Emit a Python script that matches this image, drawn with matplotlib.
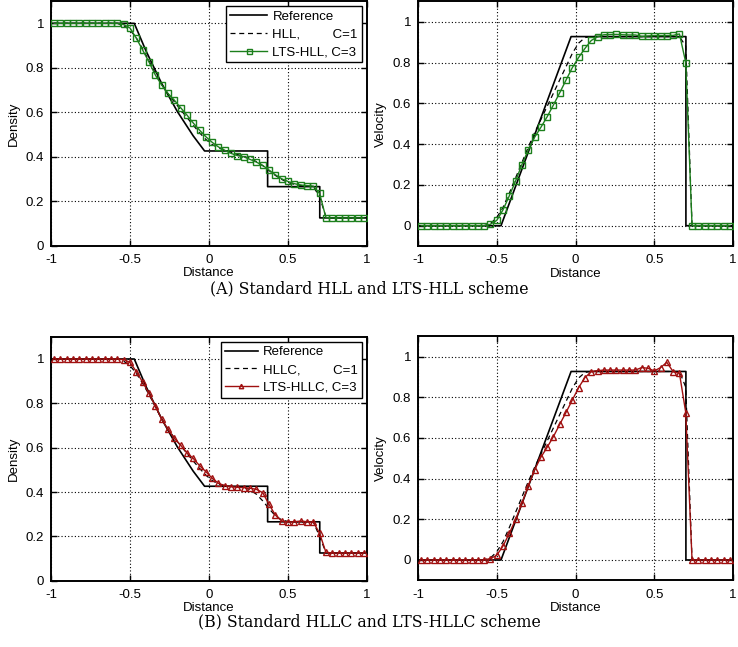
import numpy as np
import matplotlib
matplotlib.use("Agg")
import matplotlib.pyplot as plt

# ---------------- data ----------------
# cell centres (50 cells on [-1, 1])
x_cells = np.linspace(-0.98, 0.98, 50)

# exact (reference) solution, piecewise
ref_rho_x = [-1.0, -0.473, -0.4, -0.3, -0.2, -0.1, -0.028, 0.371, 0.371, 0.701, 0.701, 1.0]
ref_rho_y = [1.0, 1.0, 0.878, 0.730, 0.603, 0.494, 0.426, 0.426, 0.2656, 0.2656, 0.125, 0.125]
ref_u_x = [-1.0, -0.473, -0.028, 0.701, 0.701, 1.0]
ref_u_y = [0.0, 0.0, 0.927, 0.927, 0.0, 0.0]

left_ones = [1.0] * 11
right_rho = [0.125] * 6
zeros_l = [0.0] * 11
zeros_r = [0.0] * 6

hll_rho = left_ones + [0.99, 0.97, 0.935, 0.885, 0.832, 0.775, 0.726, 0.684, 0.648, 0.612,
                       0.577, 0.542, 0.508, 0.478, 0.455, 0.44, 0.43, 0.42, 0.41, 0.402,
                       0.392, 0.378, 0.36, 0.338, 0.316, 0.298, 0.284, 0.276, 0.271, 0.268,
                       0.266, 0.22, 0.13] + right_rho
lts_hll_rho = left_ones + [0.995, 0.979, 0.933, 0.88, 0.826, 0.768, 0.723, 0.685, 0.655, 0.621,
                           0.588, 0.552, 0.52, 0.49, 0.465, 0.444, 0.429, 0.415, 0.405, 0.40,
                           0.388, 0.376, 0.361, 0.34, 0.319, 0.301, 0.289, 0.279, 0.273, 0.27,
                           0.268, 0.235, 0.126] + right_rho
hll_u = zeros_l + [0.01, 0.04, 0.09, 0.16, 0.235, 0.31, 0.385, 0.455, 0.52, 0.585,
                   0.65, 0.715, 0.78, 0.845, 0.895, 0.922, 0.928, 0.928, 0.927, 0.927,
                   0.927, 0.927, 0.927, 0.927, 0.927, 0.927, 0.927, 0.927, 0.927, 0.927,
                   0.927, 0.88, 0.0] + zeros_r
lts_hll_u = zeros_l + [0.007, 0.026, 0.078, 0.147, 0.22, 0.30, 0.371, 0.433, 0.482, 0.534,
                       0.592, 0.652, 0.714, 0.775, 0.825, 0.869, 0.908, 0.926, 0.936, 0.937,
                       0.938, 0.936, 0.935, 0.935, 0.928, 0.93, 0.932, 0.932, 0.932, 0.933,
                       0.94, 0.80, 0.0] + zeros_r

hllc_rho = left_ones + [0.99, 0.97, 0.935, 0.89, 0.84, 0.785, 0.73, 0.685, 0.645, 0.61,
                        0.574, 0.54, 0.507, 0.476, 0.452, 0.436, 0.428, 0.425, 0.423, 0.42,
                        0.41, 0.39, 0.36, 0.325, 0.293, 0.274, 0.267, 0.266, 0.265, 0.265,
                        0.265, 0.20, 0.127] + right_rho
lts_hllc_rho = left_ones + [0.997, 0.985, 0.943, 0.896, 0.845, 0.788, 0.729, 0.683, 0.642, 0.612,
                            0.577, 0.552, 0.519, 0.492, 0.462, 0.439, 0.429, 0.424, 0.421, 0.42,
                            0.417, 0.412, 0.397, 0.344, 0.296, 0.269, 0.265, 0.266, 0.269, 0.266,
                            0.265, 0.214, 0.128] + right_rho
hllc_u = zeros_l + [0.01, 0.04, 0.09, 0.16, 0.235, 0.31, 0.385, 0.455, 0.52, 0.585,
                    0.65, 0.715, 0.78, 0.845, 0.895, 0.922, 0.928, 0.928, 0.927, 0.927,
                    0.927, 0.927, 0.927, 0.927, 0.927, 0.927, 0.927, 0.927, 0.927, 0.927,
                    0.927, 0.85, 0.0] + zeros_r
lts_hllc_u = zeros_l + [0.007, 0.023, 0.069, 0.131, 0.20, 0.279, 0.364, 0.443, 0.505, 0.554,
                        0.607, 0.667, 0.726, 0.787, 0.848, 0.897, 0.926, 0.931, 0.934, 0.934,
                        0.934, 0.934, 0.934, 0.934, 0.946, 0.943, 0.93, 0.946, 0.972, 0.926,
                        0.918, 0.725, 0.0] + zeros_r

xticks = [-1, -0.5, 0, 0.5, 1]
xticklabels = ["-1", "-0.5", "0", "0.5", "1"]
yticks = [0, 0.2, 0.4, 0.6, 0.8, 1]
yticklabels = ["0", "0.2", "0.4", "0.6", "0.8", "1"]

green = "#1c7f1c"
red = "#a01010"

plt.rcParams['font.family'] = ['Liberation Sans', 'DejaVu Sans']

fig = plt.figure(figsize=(7.38, 6.47), dpi=100)

W, H = 738.0, 647.0
def ax_at(l, r, t, b):
    return fig.add_axes([l / W, 1 - b / H, (r - l) / W, (b - t) / H])

axes = [ax_at(51, 367, 1.1, 245.7), ax_at(418, 733, 1.3, 246.1),
        ax_at(51, 367, 336.8, 580.7), ax_at(418, 733, 336.3, 580.3)]

FS = 9.5

def style(ax, ylim, ylabel):
    ax.set_xlim(-1, 1)
    ax.set_ylim(*ylim)
    ax.set_xticks(xticks)
    ax.set_xticklabels(xticklabels)
    ax.set_yticks(yticks)
    ax.set_yticklabels(yticklabels)
    ax.grid(True, color="black", linestyle=(0, (1, 2)), linewidth=0.8)
    ax.tick_params(direction="in", length=4, width=1, labelsize=FS,
                   top=True, right=True)
    ax.tick_params(axis="x", pad=6)
    ax.tick_params(axis="y", pad=5)
    for s in ax.spines.values():
        s.set_linewidth(1.4)
    ax.set_xlabel("Distance", fontsize=FS, labelpad=1)
    ax.set_ylabel(ylabel, fontsize=FS, labelpad=4)

def draw(ax, refx, refy, hx, hy, lx, ly, col, mk, ms, lab_h, lab_l, legend, hlen=2.8):
    ax.plot(refx, refy, color="black", lw=1.2, label="Reference", zorder=3)
    ax.plot(x_cells, hy, color="black", lw=0.9, ls=(0, (4, 3)), label=lab_h, zorder=4)
    ax.plot(x_cells, ly, color=col, lw=1.0, marker=mk, ms=ms, mfc="none",
            mec=col, mew=1.0, label=lab_l, zorder=5)
    if legend:
        leg = ax.legend(loc="upper right", fontsize=FS, frameon=True, fancybox=False,
                        edgecolor="black", framealpha=1, borderaxespad=0.4,
                        handlelength=hlen, borderpad=0.3, labelspacing=0.42,
                        handletextpad=0.4, markerscale=0.8)
        leg.get_frame().set_linewidth(1.0)

draw(axes[0], ref_rho_x, ref_rho_y, x_cells, hll_rho, x_cells, lts_hll_rho, green, "s", 4.5,
     "HLL,         C=1", "LTS-HLL, C=3", True, 2.8)
draw(axes[1], ref_u_x, ref_u_y, x_cells, hll_u, x_cells, lts_hll_u, green, "s", 4.5,
     "HLL,         C=1", "LTS-HLL, C=3", False)
draw(axes[2], ref_rho_x, ref_rho_y, x_cells, hllc_rho, x_cells, lts_hllc_rho, red, "^", 4,
     "HLLC,         C=1", "LTS-HLLC, C=3", True, 2.5)
draw(axes[3], ref_u_x, ref_u_y, x_cells, hllc_u, x_cells, lts_hllc_u, red, "^", 4,
     "HLLC,         C=1", "LTS-HLLC, C=3", False)

style(axes[0], (0, 1.1), "Density")
style(axes[1], (-0.1, 1.1), "Velocity")
style(axes[2], (0, 1.1), "Density")
style(axes[3], (-0.1, 1.1), "Velocity")

fig.text(369 / W, 1 - 289 / H, "(A) Standard HLL and LTS-HLL scheme", ha="center",
         va="center", fontsize=11.3, family=["DejaVu Serif"])
fig.text(369 / W, 1 - 622 / H, "(B) Standard HLLC and LTS-HLLC scheme", ha="center",
         va="center", fontsize=11.3, family=["DejaVu Serif"])

fig.savefig("out.png", dpi=100)
